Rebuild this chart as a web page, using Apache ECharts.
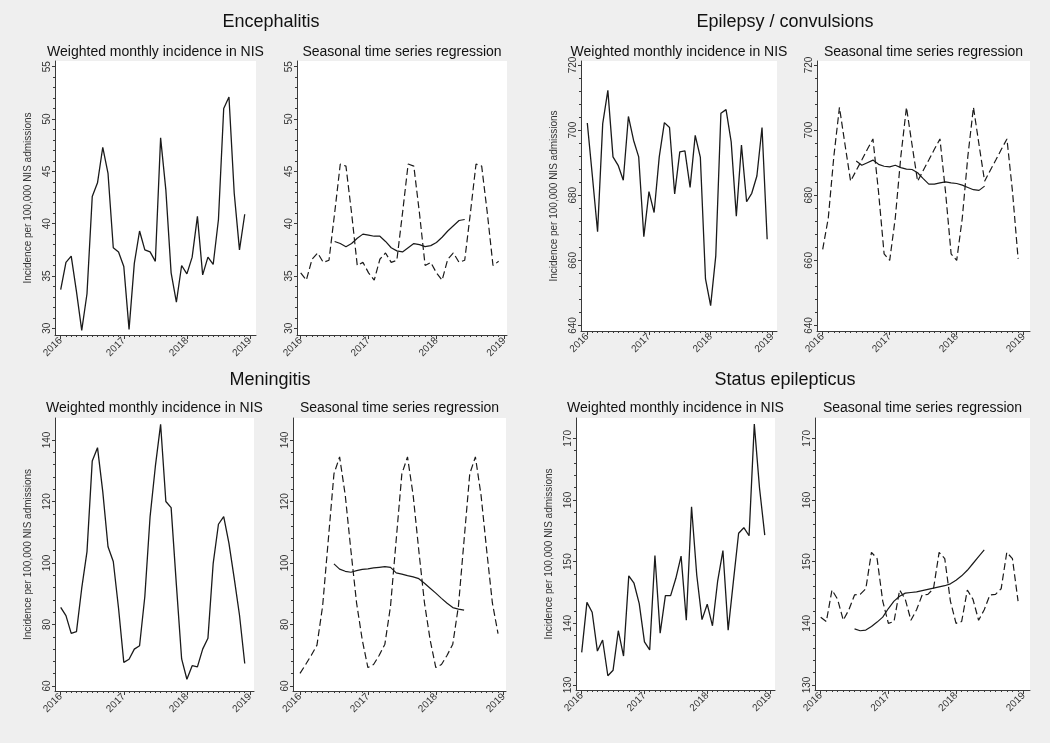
<!DOCTYPE html>
<html><head><meta charset="utf-8">
<script src="https://cdn.jsdelivr.net/npm/echarts@6.0.0/dist/echarts.min.js"></script>
<style>html,body{margin:0;padding:0;background:#efefef}#c{width:1050px;height:743px}</style>
</head><body><div id="c"></div>
<script>
// ---- data (month index 0 = Jan 2016 ... 35 = Dec 2018) ----
const yearLabels = ['2016', '2017', '2018', '2019'];
const diseaseTitles = ['Encephalitis', 'Epilepsy / convulsions', 'Meningitis', 'Status epilepticus'];
const panelTitles = ['Weighted monthly incidence in NIS', 'Seasonal time series regression'];
const yAxisTitle = 'Incidence per 100,000 NIS admissions';
const trendStart = 6; // 12-month centred moving average starts at month 6

const encObserved = [33.7,36.3,36.9,33.5,29.8,33.3,42.6,43.9,47.3,44.8,37.7,37.3,35.9,29.9,36.2,39.3,37.5,37.3,36.4,48.2,43.2,35.3,32.5,36.0,35.2,36.8,40.7,35.1,36.8,36.1,40.4,51.0,52.1,42.9,37.5,40.9];
const encSeasonal = [35.3,34.6,36.6,37.2,36.3,36.5,41.0,45.7,45.5,41.0,36.0,36.3, 35.3,34.6,36.6,37.2,36.3,36.5,41.0,45.7,45.5,41.0,36.0,36.3, 35.3,34.6,36.6,37.2,36.3,36.5,41.0,45.7,45.5,41.0,36.0,36.4];
const encTrend = [38.3,38.1,37.8,38.1,38.6,39.0,38.9,38.8,38.8,38.3,37.7,37.4,37.3,37.7,38.1,38.0,37.8,37.9,38.2,38.7,39.3,39.8,40.3,40.4];

const epiObserved = [702.2,685.7,668.8,702.0,712.2,691.8,689.2,684.6,704.2,696.9,691.8,667.3,681.1,674.7,691.8,702.3,700.8,680.4,693.3,693.6,682.4,698.4,691.6,654.3,646.1,661.4,705.2,706.3,696.4,673.6,695.4,678.0,680.6,685.9,700.8,666.5];
const epiSeasonal = [663.4,673,692,707,695.5,684.3,687.6,690.8,694.1,697.3,681,662, 660,673,692,707,695.5,684.3,687.6,690.8,694.1,697.3,681,662, 660,673,692,707,695.5,684.3,687.6,690.8,694.1,697.3,681,660.5];
const epiTrend = [690.5,689.2,690.0,690.8,689.5,688.9,688.7,689.2,688.5,688.0,687.9,686.9,685.1,683.4,683.4,683.8,684.1,683.8,683.6,683.1,682.4,681.7,681.5,682.8];

const menObserved = [85.6,82.9,77.1,77.7,91.8,103.7,133.2,137.5,123.2,105.3,100.5,85.3,67.7,68.7,72.0,73.1,89.1,115.1,131.4,145.1,120.0,118.0,92.9,68.8,62.2,66.6,66.2,72.0,75.5,99.9,112.6,115.1,106.4,95.0,83.1,67.3];
const menSeasonal = [64.1,67.0,70.0,73.3,86.0,107.5,129.0,134.5,122.0,104.0,87.0,75.0, 66.0,67.0,70.0,73.6,86.0,107.5,129.0,134.5,122.0,104.0,87.0,75.0, 66.0,67.0,70.0,73.6,86.0,107.5,129.0,134.5,122.0,104.0,87.0,77.0];
const menTrend = [99.7,98.0,97.3,97.0,97.5,97.9,98.1,98.4,98.6,98.8,98.6,96.8,96.4,95.9,95.5,94.9,93.4,91.8,90.2,88.5,86.9,85.5,85.0,84.7];

const staObserved = [135.3,143.4,141.8,135.5,137.3,131.5,132.4,138.8,134.7,147.7,146.5,143.2,137.0,135.7,151.0,138.4,144.5,144.5,147.3,150.9,140.5,158.9,147.8,140.6,143.1,139.6,146.9,151.8,138.9,146.8,154.6,155.5,154.2,172.3,161.9,154.3];
const staSeasonal = [141.0,140.3,145.4,143.9,140.5,142.2,144.6,144.7,145.6,151.5,150.5,143.6, 140.0,140.3,145.4,143.9,140.5,142.2,144.6,144.7,145.6,151.5,150.5,143.6, 140.0,140.3,145.4,143.9,140.5,142.2,144.6,144.7,145.6,151.5,150.5,143.6];
const staTrend = [139.1,138.8,138.9,139.5,140.2,141.0,142.4,143.6,144.4,144.9,145.0,145.1,145.3,145.5,145.7,145.9,146.1,146.4,147.0,147.7,148.6,149.7,150.8,151.9];

const encYTicks = [30,35,40,45,50,55], encYStep = 1;
const epiYTicks = [640,660,680,700,720], epiYStep = 4;
const menYTicks = [60,80,100,120,140], menYStep = 4;
const staYTicks = [130,140,150,160,170], staYStep = 2;

// ---- layout (pixels) ----
const layout = [
  {l:55, r:256, t:61, b:335, x0:60.7, x1:250, yp:[328.3,66.7]},
  {l:297,r:507, t:61, b:335, x0:300.7,x1:504.3,yp:[328.3,66.7]},
  {l:581,r:777, t:61, b:331, x0:587.3,x1:772.3,yp:[325.5,65]},
  {l:817,r:1030,t:61, b:331, x0:822.7,x1:1023.7,yp:[325.5,65]},
  {l:55, r:254, t:418,b:691, x0:60.7, x1:250, yp:[686,440]},
  {l:293,r:506, t:418,b:691, x0:300, x1:503.7,yp:[686,440]},
  {l:576,r:775, t:418,b:690, x0:581.7,x1:770, yp:[685,438.3]},
  {l:815,r:1030,t:418,b:690, x0:820.7,x1:1023.7,yp:[685,438.3]}
];
const titlePos = [[271,22],[785,22],[270,380],[785,380]];
const subY = [52,52,52,52,408,408,408,408];

const diseases = [
  {obs:encObserved, sea:encSeasonal, tr:encTrend, ticks:encYTicks, step:encYStep},
  {obs:epiObserved, sea:epiSeasonal, tr:epiTrend, ticks:epiYTicks, step:epiYStep},
  {obs:menObserved, sea:menSeasonal, tr:menTrend, ticks:menYTicks, step:menYStep},
  {obs:staObserved, sea:staSeasonal, tr:staTrend, ticks:staYTicks, step:staYStep}
];

const FONT = 'Liberation Sans, Arial, Helvetica, sans-serif';
const INK = '#1a1a1a', AX = '#3a3a3a';
const nMonths = encObserved.length;
const monthTicks = Array.from({length: nMonths + 1}, (_, i) => i);
const yearTicks = yearLabels.map((_, i) => i * 12);

const grids = [], xAxes = [], yAxes = [], series = [], graphics = [];
layout.forEach((L, p) => {
  const di = Math.floor(p / 2);
  const D = diseases[di];
  const isLeft = p % 2 === 0;
  grids.push({left: L.l, top: L.t, width: L.r - L.l, height: L.b - L.t, show: true, backgroundColor: '#ffffff', borderWidth: 0, containLabel: false});
  const ppm = (L.x1 - L.x0) / nMonths;
  const xmin = -(L.x0 - L.l) / ppm, xmax = nMonths + (L.r - L.x1) / ppm;
  const yv = [D.ticks[0], D.ticks[D.ticks.length - 1]];
  const upp = (yv[1] - yv[0]) / (L.yp[0] - L.yp[1]);
  const ymin = yv[0] - (L.b - L.yp[0]) * upp, ymax = yv[1] + (L.yp[1] - L.t) * upp;
  const minorY = [];
  for (let v = yv[0]; v <= yv[1] + 1e-9; v += D.step) minorY.push(v);

  xAxes.push({gridIndex: p, type: 'value', min: xmin, max: xmax, position: 'bottom',
    axisLine: {show: true, onZero: false, lineStyle: {color: AX, width: 1}},
    axisTick: {show: true, customValues: yearTicks, length: 4, lineStyle: {color: AX}},
    axisLabel: {customValues: yearTicks, formatter: v => yearLabels[Math.round(v / 12)], rotate: 45, fontSize: 10, color: '#333', fontFamily: FONT, margin: 4},
    splitLine: {show: false}});
  xAxes.push({gridIndex: p, type: 'value', min: xmin, max: xmax, position: 'bottom',
    axisLine: {show: false, onZero: false},
    axisTick: {show: true, customValues: monthTicks, length: 2, lineStyle: {color: AX}},
    axisLabel: {show: false}, splitLine: {show: false}});
  const yMain = {gridIndex: p, type: 'value', min: ymin, max: ymax, position: 'left',
    axisLine: {show: true, onZero: false, lineStyle: {color: AX, width: 1}},
    axisTick: {show: true, customValues: D.ticks, length: 3, lineStyle: {color: AX}},
    axisLabel: {customValues: D.ticks, rotate: 90, fontSize: 10, color: '#333', fontFamily: FONT, margin: 3},
    splitLine: {show: false}};
  if (isLeft) {
    yMain.name = yAxisTitle; yMain.nameLocation = 'middle'; yMain.nameGap = 22;
    yMain.nameTextStyle = {fontSize: 10, color: '#333', fontFamily: FONT};
  }
  yAxes.push(yMain);
  yAxes.push({gridIndex: p, type: 'value', min: ymin, max: ymax, position: 'left',
    axisLine: {show: false, onZero: false},
    axisTick: {show: true, customValues: minorY, length: 2, lineStyle: {color: AX}},
    axisLabel: {show: false}, splitLine: {show: false}});

  const xi = p * 2, yi = p * 2;
  if (isLeft) {
    series.push({type: 'line', xAxisIndex: xi, yAxisIndex: yi, showSymbol: false, silent: true,
      data: D.obs.map((v, i) => [i, v]), lineStyle: {color: INK, width: 1.3}});
  } else {
    series.push({type: 'line', xAxisIndex: xi, yAxisIndex: yi, showSymbol: false, silent: true,
      data: D.sea.map((v, i) => [i, v]), lineStyle: {color: INK, width: 1.2, type: [7, 3.5]}});
    series.push({type: 'line', xAxisIndex: xi, yAxisIndex: yi, showSymbol: false, silent: true,
      data: D.tr.map((v, i) => [i + trendStart, v]), lineStyle: {color: INK, width: 1.2}});
  }
  graphics.push({type: 'text', x: (L.l + L.r) / 2, y: subY[p], silent: true,
    style: {text: panelTitles[p % 2], textAlign: 'center', textVerticalAlign: 'middle', font: '14px ' + FONT, fill: '#111'}});
});
diseaseTitles.forEach((t, i) => {
  graphics.push({type: 'text', x: titlePos[i][0], y: titlePos[i][1], silent: true,
    style: {text: t, textAlign: 'center', textVerticalAlign: 'middle', font: '18px ' + FONT, fill: '#111'}});
});

const chart = echarts.init(document.getElementById('c'), null, {renderer: 'canvas'});
chart.setOption({
  backgroundColor: '#efefef',
  animation: false,
  grid: grids, xAxis: xAxes, yAxis: yAxes, series: series,
  graphic: graphics
});
</script></body></html>
